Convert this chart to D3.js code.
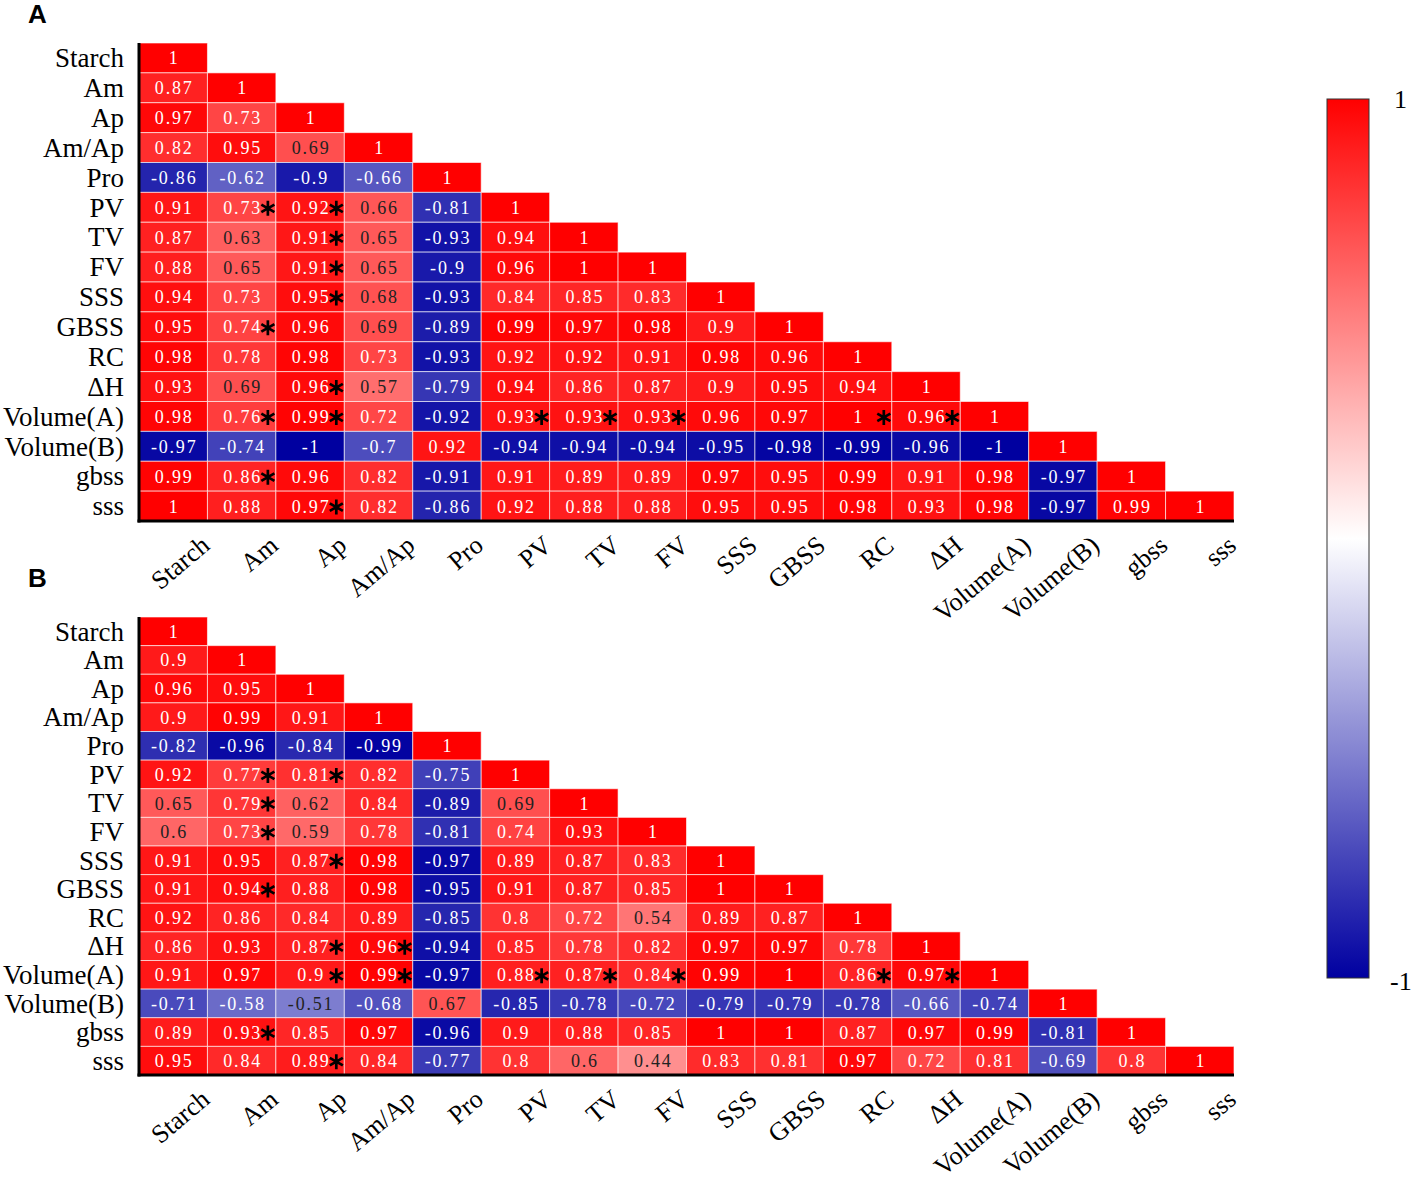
<!DOCTYPE html>
<html>
<head>
	<meta charset="utf-8">
	<style>
		body { margin: 0; background: #fff; }
		svg { font-family: "Liberation Serif", "DejaVu Serif", serif; }
		.axis text { font-family: "Liberation Serif", "DejaVu Serif", serif; font-size: 26px; fill: #000; }
		.axis.y text { font-size: 27px; }
		.axis path { stroke: #000; stroke-width: 3; }
		.cell text { font-family: "Liberation Serif", "DejaVu Serif", serif; font-size: 18px; letter-spacing: 1.8px; }
		.panel-label { font: bold 26px "Liberation Sans", Arial, sans-serif; }
	</style>
</head>
<body>
	<svg width="1417" height="1180"></svg>
	<script src="https://d3js.org/d3.v7.min.js"></script>
	<script>

		var vars = ["Starch", "Am", "Ap", "Am/Ap", "Pro", "PV", "TV", "FV", "SSS", "GBSS", "RC", "ΔH", "Volume(A)", "Volume(B)", "gbss", "sss"];

		// lower triangle, row by row (diagonal included)
		var valuesA = [
			[1],
			[0.87, 1],
			[0.97, 0.73, 1],
			[0.82, 0.95, 0.69, 1],
			[-0.86, -0.62, -0.9, -0.66, 1],
			[0.91, 0.73, 0.92, 0.66, -0.81, 1],
			[0.87, 0.63, 0.91, 0.65, -0.93, 0.94, 1],
			[0.88, 0.65, 0.91, 0.65, -0.9, 0.96, 1, 1],
			[0.94, 0.73, 0.95, 0.68, -0.93, 0.84, 0.85, 0.83, 1],
			[0.95, 0.74, 0.96, 0.69, -0.89, 0.99, 0.97, 0.98, 0.9, 1],
			[0.98, 0.78, 0.98, 0.73, -0.93, 0.92, 0.92, 0.91, 0.98, 0.96, 1],
			[0.93, 0.69, 0.96, 0.57, -0.79, 0.94, 0.86, 0.87, 0.9, 0.95, 0.94, 1],
			[0.98, 0.76, 0.99, 0.72, -0.92, 0.93, 0.93, 0.93, 0.96, 0.97, 1, 0.96, 1],
			[-0.97, -0.74, -1, -0.7, 0.92, -0.94, -0.94, -0.94, -0.95, -0.98, -0.99, -0.96, -1, 1],
			[0.99, 0.86, 0.96, 0.82, -0.91, 0.91, 0.89, 0.89, 0.97, 0.95, 0.99, 0.91, 0.98, -0.97, 1],
			[1, 0.88, 0.97, 0.82, -0.86, 0.92, 0.88, 0.88, 0.95, 0.95, 0.98, 0.93, 0.98, -0.97, 0.99, 1]
		];

		var valuesB = [
			[1],
			[0.9, 1],
			[0.96, 0.95, 1],
			[0.9, 0.99, 0.91, 1],
			[-0.82, -0.96, -0.84, -0.99, 1],
			[0.92, 0.77, 0.81, 0.82, -0.75, 1],
			[0.65, 0.79, 0.62, 0.84, -0.89, 0.69, 1],
			[0.6, 0.73, 0.59, 0.78, -0.81, 0.74, 0.93, 1],
			[0.91, 0.95, 0.87, 0.98, -0.97, 0.89, 0.87, 0.83, 1],
			[0.91, 0.94, 0.88, 0.98, -0.95, 0.91, 0.87, 0.85, 1, 1],
			[0.92, 0.86, 0.84, 0.89, -0.85, 0.8, 0.72, 0.54, 0.89, 0.87, 1],
			[0.86, 0.93, 0.87, 0.96, -0.94, 0.85, 0.78, 0.82, 0.97, 0.97, 0.78, 1],
			[0.91, 0.97, 0.9, 0.99, -0.97, 0.88, 0.87, 0.84, 0.99, 1, 0.86, 0.97, 1],
			[-0.71, -0.58, -0.51, -0.68, 0.67, -0.85, -0.78, -0.72, -0.79, -0.79, -0.78, -0.66, -0.74, 1],
			[0.89, 0.93, 0.85, 0.97, -0.96, 0.9, 0.88, 0.85, 1, 1, 0.87, 0.97, 0.99, -0.81, 1],
			[0.95, 0.84, 0.89, 0.84, -0.77, 0.8, 0.6, 0.44, 0.83, 0.81, 0.97, 0.72, 0.81, -0.69, 0.8, 1]
		];

		// significant cells: [row, column]
		var starsA = [
			["PV", "Am"], ["PV", "Ap"], ["TV", "Ap"], ["FV", "Ap"], ["SSS", "Ap"], ["GBSS", "Am"], ["ΔH", "Ap"],
			["Volume(A)", "Am"], ["Volume(A)", "Ap"], ["Volume(A)", "PV"], ["Volume(A)", "TV"], ["Volume(A)", "FV"],
			["Volume(A)", "RC"], ["Volume(A)", "ΔH"], ["gbss", "Am"], ["sss", "Ap"]
		];
		var starsB = [
			["PV", "Am"], ["PV", "Ap"], ["TV", "Am"], ["FV", "Am"], ["SSS", "Ap"], ["GBSS", "Am"], ["ΔH", "Ap"], ["ΔH", "Am/Ap"],
			["Volume(A)", "Ap"], ["Volume(A)", "Am/Ap"], ["Volume(A)", "PV"], ["Volume(A)", "TV"], ["Volume(A)", "FV"],
			["Volume(A)", "RC"], ["Volume(A)", "ΔH"], ["gbss", "Am"], ["sss", "Ap"]
		];

		var legendTicks = ["1", "-1"];

		var svg = d3.select("svg");

		var color = d3.scaleLinear()
			.domain([-1, 0, 1])
			.range(["#0000a0", "#ffffff", "#ff0000"])
			.clamp(true);

		function drawPanel(values, stars, box, label) {
			var x = d3.scaleBand().domain(vars).range([box.left, box.right]);
			var y = d3.scaleBand().domain(vars).range([box.top, box.bottom]);
			var g = svg.append("g");

			var cells = [];
			values.forEach(function (row, i) {
				row.forEach(function (v, j) {
					cells.push({ row: vars[i], col: vars[j], v: v });
				});
			});
			var starSet = new Set(stars.map(function (s) { return s[0] + "|" + s[1]; }));

			var cell = g.selectAll("g.cell")
				.data(cells)
				.enter().append("g")
				.attr("class", "cell");

			cell.append("rect")
				.attr("x", function (d) { return x(d.col); })
				.attr("y", function (d) { return y(d.row); })
				.attr("width", x.bandwidth())
				.attr("height", y.bandwidth())
				.attr("fill", function (d) { return color(d.v); })
				.attr("stroke", "rgba(255,255,255,0.6)")
				.attr("stroke-width", 1);

			cell.append("text")
				.attr("x", function (d) { return x(d.col) + x.bandwidth() / 2 + 1; })
				.attr("y", function (d) { return y(d.row) + y.bandwidth() / 2; })
				.attr("dy", "0.36em")
				.attr("text-anchor", "middle")
				.attr("fill", function (d) { return d3.hsl(color(d.v)).l > 0.645 ? "#222" : "#fff"; })
				.text(function (d) { return String(d.v); });

			var ast = d3.symbol().type(d3.symbolAsterisk || d3.symbolCross).size(160);
			g.selectAll("path.star")
				.data(cells.filter(function (d) { return starSet.has(d.row + "|" + d.col); }))
				.enter().append("path")
				.attr("class", "star")
				.attr("d", ast)
				.attr("transform", function (d) {
					return "translate(" + (x(d.col) + x.bandwidth() - 8) + "," + (y(d.row) + y.bandwidth() / 2 + 1) + ")";
				})
				.attr("fill", d3.symbolAsterisk ? "none" : "#000")
				.attr("stroke", "#000")
				.attr("stroke-width", 2.7);

			// axes
			g.append("g")
				.attr("class", "axis y")
				.attr("transform", "translate(" + box.left + ",0)")
				.call(d3.axisLeft(y).tickSize(0).tickPadding(15))
				.call(function (a) { a.selectAll("text").attr("dy", "0.34em"); })
				.select(".domain").attr("d", "M0," + (box.top) + "V" + (box.bottom + 1.5));

			g.append("g")
				.attr("class", "axis x")
				.attr("transform", "translate(0," + box.bottom + ")")
				.call(d3.axisBottom(x).tickSize(0))
				.call(function (a) {
					a.selectAll("text")
						.attr("y", 0).attr("dy", 0)
						.attr("text-anchor", "end")
						.attr("transform", "translate(38,27) rotate(-40)");
				})
				.select(".domain").attr("d", "M" + (box.left - 1.5) + ",0H" + box.right);

			svg.append("text")
				.attr("class", "panel-label")
				.attr("x", 28)
				.attr("y", box.labelY)
				.text(label);
		}

		drawPanel(valuesA, starsA, { left: 139, right: 1234, top: 43, bottom: 521, labelY: 23 }, "A");
		drawPanel(valuesB, starsB, { left: 139, right: 1234, top: 617, bottom: 1075, labelY: 587 }, "B");

		// Colour bar
		var bar = { x: 1327, y: 99, w: 42, h: 879 };
		var grad = svg.append("defs").append("linearGradient")
			.attr("id", "cbar")
			.attr("x1", 0).attr("y1", 0).attr("x2", 0).attr("y2", 1);
		grad.selectAll("stop")
			.data(d3.range(0, 1.0001, 0.05))
			.enter().append("stop")
			.attr("offset", function (t) { return t; })
			.attr("stop-color", function (t) { return color(1 - 2 * t); });

		var cy = d3.scaleLinear().domain([1, -1]).range([bar.y, bar.y + bar.h]);
		svg.append("rect")
			.attr("x", bar.x).attr("y", cy(1))
			.attr("width", bar.w).attr("height", cy(-1) - cy(1))
			.attr("fill", "url(#cbar)")
			.attr("stroke", "#333")
			.attr("stroke-width", 1);

		svg.selectAll("text.cbar")
			.data(legendTicks)
			.enter().append("text")
			.attr("class", "cbar")
			.attr("x", function (d) { return d === "1" ? 1394 : 1390; })
			.attr("y", function (d) { return cy(+d) + (d === "1" ? 9 : 12); })
			.attr("font-size", 26)
			.text(String);

	</script>
</body>
</html>
